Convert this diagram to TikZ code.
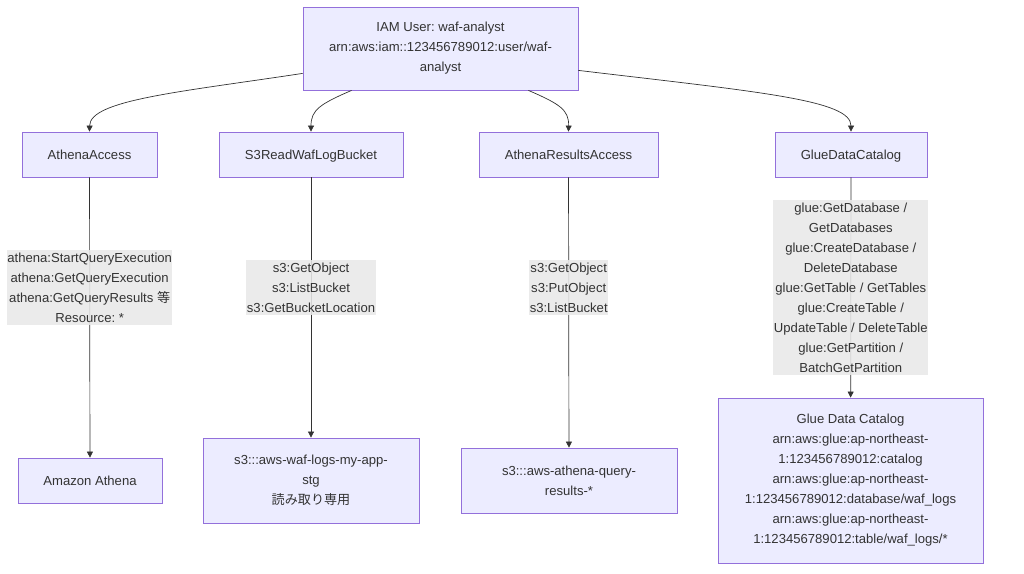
\documentclass[tikz,border=0pt]{standalone}
\usepackage{fontspec}
\setmainfont{Liberation Sans}
\newfontfamily\jpfont{Noto Sans CJK JP}
\usetikzlibrary{arrows.meta}
\definecolor{boxfill}{HTML}{ECECFF}
\definecolor{boxline}{HTML}{9370DB}
\definecolor{inktext}{HTML}{333333}
\definecolor{lblfill}{HTML}{E8E8E8}
\frenchspacing
\tikzset{
  polbox/.style={draw=boxline,fill=boxfill,line width=0.8pt,align=center,inner sep=0pt,text=inktext},
  oneline/.style={polbox,minimum height=45,text height=12.5pt,text depth=3pt},
  permlbl/.style={fill=lblfill,fill opacity=0.88,text opacity=1,align=center,inner xsep=0.5pt,inner ysep=2.5pt,text=inktext},
  flow/.style={draw=inktext,line width=0.7pt,-{Triangle[length=6pt,width=6pt]}}
}
\begin{document}
\begin{tikzpicture}[x=1pt,y=-1pt,font=\fontsize{13.1}{20}\selectfont]
                \useasboundingbox (0,0) rectangle (1024,573);
                \node[polbox,minimum width=275,minimum height=83] (iam) at (440.5,48.5)
                    {IAM User: waf-analyst\\arn:aws:iam::123456789012:user/waf-\\analyst};
                \node[oneline,minimum width=135] (athena) at (89.5,154.5) {AthenaAccess};
                \node[oneline,minimum width=184] (s3read) at (311,154.5) {S3ReadWafLogBucket};
                \node[oneline,minimum width=179] (results) at (568.5,154.5) {AthenaResultsAccess};
                \node[oneline,minimum width=152] (glue) at (851,154.5) {GlueDataCatalog};
                \node[oneline,minimum width=144] (amazon) at (90,480.5) {Amazon Athena};
                \node[polbox,minimum width=216,minimum height=85] (wafbucket) at (311,480.5)
                    {s3:::aws-waf-logs-my-app-\\stg\\{\jpfont 読み取り専用}};
                \node[polbox,minimum width=216,minimum height=65] (resbucket) at (569,480.5)
                    {s3:::aws-athena-query-\\results-*};
                \node[polbox,minimum width=265,minimum height=165] (gluedc) at (850.5,480.5)
                    {Glue Data Catalog\\arn:aws:glue:ap-northeast-\\1:123456789012:catalog\\arn:aws:glue:ap-northeast-\\1:123456789012:database/waf\_logs\\arn:aws:glue:ap-northeast-\\1:123456789012:table/waf\_logs/*};
                % user to policies
                \draw[flow] ([yshift=17pt]iam.south west) .. controls (180,92) and (90,100) .. (athena.north);
                \draw[flow] ([xshift=49pt]iam.south west) .. controls (320,104) and (311,110) .. (s3read.north);
                \draw[flow] ([xshift=-50pt]iam.south east) .. controls (560,104) and (569,110) .. (results.north);
                \draw[flow] ([yshift=20pt]iam.south east) .. controls (760,92) and (851,100) .. (glue.north);
                % policies to resources
                \draw[flow] (athena) -- node[permlbl,pos=0.393]
                    {athena:StartQueryExecution\\athena:GetQueryExecution\\athena:GetQueryResults {\jpfont 等}\\Resource: *} (amazon);
                \draw[flow] (s3read) -- node[permlbl,pos=0.423]
                    {s3:GetObject\\s3:ListBucket\\s3:GetBucketLocation} (wafbucket);
                \draw[flow] (results) -- node[permlbl,pos=0.408]
                    {s3:GetObject\\s3:PutObject\\s3:ListBucket} (resbucket);
                \draw[flow] (glue) -- node[permlbl,pos=0.5]
                    {glue:GetDatabase /\\GetDatabases\\glue:CreateDatabase /\\DeleteDatabase\\glue:GetTable / GetTables\\glue:CreateTable /\\UpdateTable / DeleteTable\\glue:GetPartition /\\BatchGetPartition} (gluedc);
            \end{tikzpicture}
\end{document}
